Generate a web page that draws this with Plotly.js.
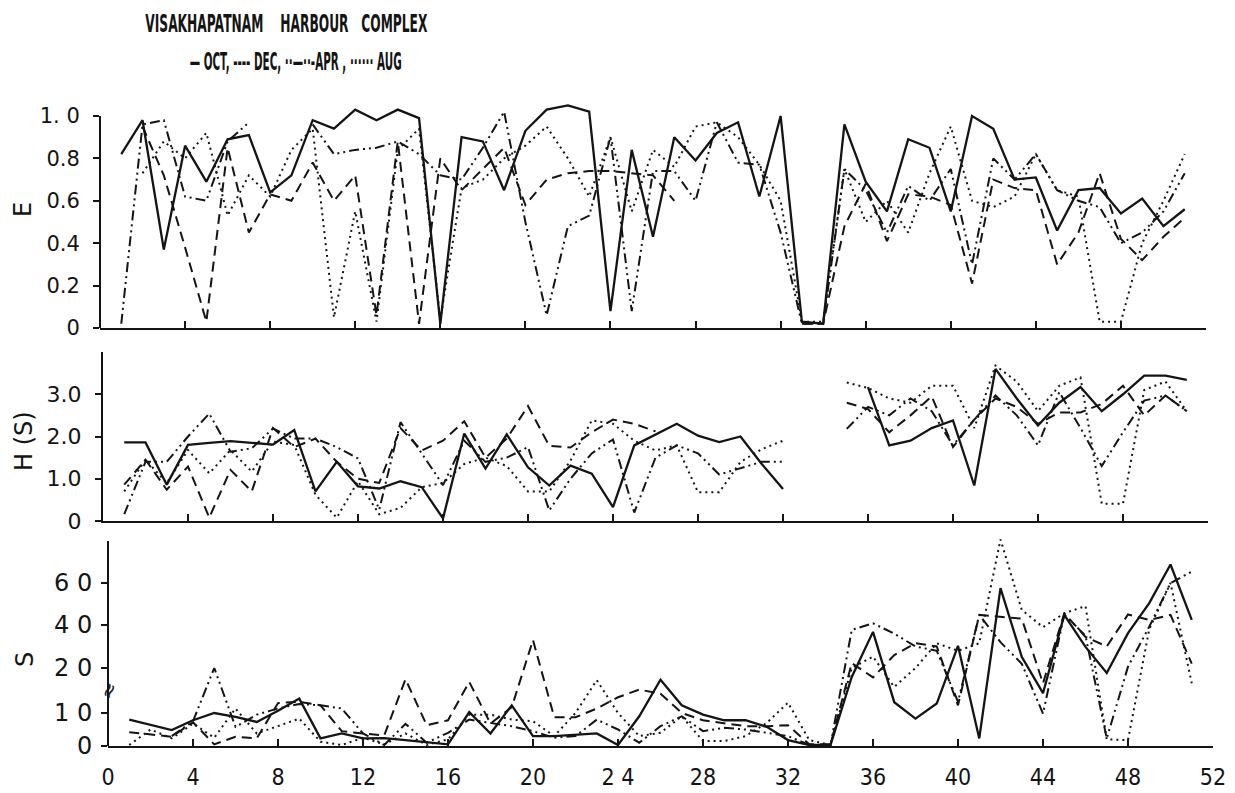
<!DOCTYPE html>
<html><head><meta charset="utf-8">
<script src="https://cdn.plot.ly/plotly-3.0.1.min.js"></script>
<style>html,body{margin:0;padding:0;background:#fff}#chart{width:1235px;height:793px}</style>
</head><body><div id="chart"></div>
<script>
// ---- categories ----
const weeks = [1,2,3,4,5,6,7,8,9,10,11,12,13,14,15,16,17,18,19,20,21,22,23,24,25,26,27,28,29,30,31,32,33,34,35,36,37,38,39,40,41,42,43,44,45,46,47,48,49,50,51];
const seriesNames = ['OCT','DEC','APR','AUG'];

// ---- E (evenness) ----
const E_OCT = [0.82,0.98,0.37,0.86,0.69,0.89,0.91,0.64,0.72,0.98,0.94,1.03,0.98,1.03,0.99,0.02,0.90,0.88,0.65,0.93,1.03,1.05,1.02,0.08,0.84,0.43,0.90,0.79,0.92,0.97,0.62,1.00,0.03,0.02,0.96,0.69,0.55,0.89,0.85,0.55,1.00,0.94,0.70,0.71,0.46,0.65,0.66,0.54,0.61,0.48,0.56];
const E_DEC = [null,0.95,0.72,0.38,0.03,0.85,0.45,0.63,0.60,0.78,0.60,0.72,0.06,0.88,0.02,0.80,0.65,0.75,0.85,0.58,0.70,0.73,0.74,0.74,0.73,0.72,0.60,null,null,null,null,null,0.02,0.02,0.48,0.68,0.41,0.63,0.62,0.58,0.21,0.70,0.66,0.65,0.30,0.45,0.73,0.42,0.32,0.43,0.52];
const E_APR = [0.02,0.96,0.98,0.62,0.60,0.88,0.97,null,null,0.96,0.82,0.84,0.85,0.88,0.82,0.72,0.70,0.85,1.02,0.50,0.06,0.48,0.53,0.90,0.08,0.74,0.74,0.60,0.97,0.78,0.77,0.45,0.02,0.02,0.75,0.65,0.45,0.67,0.60,0.75,0.30,0.80,0.70,0.82,0.65,0.60,0.57,0.40,0.45,0.55,0.73];
const E_AUG = [null,0.73,0.88,0.80,0.92,0.53,0.72,0.62,0.84,0.94,0.05,0.55,0.03,0.84,0.94,0.04,0.66,0.70,0.80,0.86,0.95,0.80,0.62,0.90,0.55,0.84,0.76,0.95,0.97,0.90,0.77,0.60,0.03,0.03,0.75,0.50,0.60,0.45,0.73,0.95,0.60,0.57,0.62,0.82,0.65,0.62,0.03,0.03,0.40,0.60,0.82];

// ---- H(S) (diversity) ----
const H_OCT = [1.86,1.86,0.86,1.80,1.85,1.89,1.85,1.81,2.15,0.70,1.40,0.82,0.77,0.94,0.80,0.06,2.07,1.24,2.05,1.27,0.84,1.31,1.12,0.33,1.79,2.05,2.30,2.02,1.87,2.00,1.35,0.76,null,null,null,3.17,1.79,1.90,2.20,2.38,0.84,3.60,2.90,2.26,2.80,3.17,2.60,3.00,3.44,3.44,3.34];
const H_DEC = [0.86,1.45,0.74,1.29,0.08,1.21,0.70,2.20,1.75,1.95,1.40,1.00,0.90,2.20,1.67,1.90,2.36,1.50,1.95,2.72,1.78,1.74,2.10,2.40,2.30,2.12,null,null,null,null,null,null,null,null,2.80,2.65,2.10,2.50,2.95,1.75,2.40,2.90,2.70,2.30,2.57,2.57,2.77,3.20,2.50,2.97,2.60];
const H_APR = [0.16,1.40,1.40,2.00,2.54,1.64,1.72,2.19,1.95,1.95,1.75,1.48,0.27,2.34,1.60,0.85,1.90,1.40,1.50,1.75,0.25,1.00,1.60,1.93,0.20,1.50,1.79,1.60,1.10,1.25,1.40,1.40,null,null,2.18,2.70,2.50,2.90,2.60,1.79,2.40,2.97,2.50,1.79,3.05,2.20,1.30,2.10,2.85,2.97,2.60];
const H_AUG = [0.70,1.45,0.90,1.68,1.13,1.68,1.17,1.88,1.80,0.62,0.08,0.94,0.16,0.31,0.80,0.90,1.35,1.50,1.30,0.70,0.70,1.43,2.38,2.30,1.90,1.67,1.79,0.68,0.68,1.40,1.70,1.90,null,null,3.28,3.15,2.90,2.80,3.20,3.20,2.20,3.68,3.30,2.60,3.20,3.40,0.41,0.41,3.10,3.30,2.60];

// ---- S (number of species) ----
const S_OCT = [8.0,6.5,4.8,7.8,10.0,8.8,7.3,10.5,13.2,2.3,3.8,2.3,2.4,1.8,1.2,0.5,10.2,3.8,11.7,3.0,3.0,3.4,3.8,0.3,9.0,17.4,11.7,9.5,7.8,7.8,5.8,1.8,0.3,0.3,18.0,36.8,12.4,8.3,12.1,30.3,2.3,57.6,25.2,14.4,44.8,29.8,18.9,36.2,50.4,68.8,42.4];
const S_DEC = [4.2,3.5,2.8,7.2,0.5,2.8,2.3,12.2,12.5,11.7,4.5,3.8,3.2,17.5,6.3,7.8,16.9,6.8,11.3,33.0,8.7,8.7,11.0,13.5,15.2,14.3,10.0,7.8,7.0,6.0,6.0,6.3,0.5,0.5,22.3,17.9,26.0,31.5,30.0,11.7,44.8,43.8,43.0,16.6,45.6,34.5,30.0,45.0,42.4,44.8,22.0];
const S_APR = [null,null,3.0,7.5,20.0,5.8,9.5,11.0,12.0,11.7,11.0,3.8,0.3,6.7,1.0,4.0,8.0,7.0,6.0,4.5,2.5,3.0,8.0,5.0,1.0,6.0,9.0,4.5,5.5,5.0,4.0,3.0,0.3,0.3,37.7,40.8,36.0,30.0,28.0,12.5,44.8,32.0,22.0,9.8,45.0,35.0,2.3,20.6,39.2,60.0,65.4];
const S_AUG = [0.3,5.0,2.3,6.8,2.5,11.0,3.8,6.0,8.3,1.3,0.3,2.5,0.5,3.8,0.3,2.0,9.5,9.5,8.0,7.5,3.0,10.0,17.3,10.0,3.0,4.0,9.0,1.5,1.5,3.0,7.0,12.3,1.8,0.3,20.0,25.3,15.8,20.0,31.5,28.0,31.5,80.7,47.2,39.0,45.6,49.0,2.0,1.8,38.0,60.0,16.6];

// ---- tick labels ----
const xTickVals = [0,4,8,12,16,20,24,28,32,36,40,44,48,52];
const xTickText = ['0','4','8','12','16','20','2 4','28','32','36','40','44','48','52'];
const eTickVals = [0,0.2,0.4,0.6,0.8,1.0];
const eTickText = ['0','0.2','0.4','0.6','0.8','1. 0'];
const hTickVals = [0,1,2,3];
const hTickText = ['0','1.0','2.0','3.0'];
const sTickVals = [0,10,20,40,60];
const sTickText = ['0','1 0','2 0','4 0','6 0'];

// broken S axis: piecewise scale (label value -> axis position)
const sTickPos = [0,33,78,121,163];
function sPos(v){
  if(v===null||v===undefined) return null;
  for(let i=1;i<sTickVals.length;i++){
    if(v<=sTickVals[i]){
      const t=(v-sTickVals[i-1])/(sTickVals[i]-sTickVals[i-1]);
      return sTickPos[i-1]+t*(sTickPos[i]-sTickPos[i-1]);
    }
  }
  const n=sTickVals.length;
  const slope=(sTickPos[n-1]-sTickPos[n-2])/(sTickVals[n-1]-sTickVals[n-2]);
  return sTickPos[n-1]+(v-sTickVals[n-1])*slope;
}

const INK = '#141414';
const lineStyle = {
  OCT:{color:INK,width:2.3,dash:'solid'},
  DEC:{color:INK,width:2,dash:'10px,6px'},
  APR:{color:INK,width:2,dash:'10px,4px,2px,4px,2px,4px'},
  AUG:{color:INK,width:2,dash:'2px,4px'}
};

const panels = [
  {xa:'x',ya:'y',data:{OCT:E_OCT,DEC:E_DEC,APR:E_APR,AUG:E_AUG},f:v=>v},
  {xa:'x2',ya:'y2',data:{OCT:H_OCT,DEC:H_DEC,APR:H_APR,AUG:H_AUG},f:v=>v},
  {xa:'x3',ya:'y3',data:{OCT:S_OCT,DEC:S_DEC,APR:S_APR,AUG:S_AUG},f:sPos}
];
const traces = [];
panels.forEach(p=>{
  seriesNames.forEach(n=>{
    traces.push({type:'scatter',mode:'lines',x:weeks,y:p.data[n].map(p.f),
      xaxis:p.xa,yaxis:p.ya,name:n,line:lineStyle[n],connectgaps:false,
      hoverinfo:'skip'});
  });
});

const W=1235,Hh=793;
const fx=px=>px/W, fy=py=>1-py/Hh;
const baseX = {range:[0,52],showline:true,linewidth:2,linecolor:INK,ticks:'inside',ticklen:7,tickwidth:2,tickcolor:INK,
  tickmode:'array',tickvals:xTickVals.slice(1),showticklabels:false,showgrid:false,zeroline:false,fixedrange:true};
const baseY = {ticks:'outside',ticklen:6,tickwidth:2,tickcolor:INK,tickmode:'array',showgrid:false,zeroline:false,fixedrange:true,
  tickfont:{family:'DejaVu Sans',size:21,color:INK}};

const layout = {
  width:W,height:Hh,margin:{l:0,r:0,t:0,b:0},paper_bgcolor:'#ffffff',plot_bgcolor:'rgba(0,0,0,0)',showlegend:false,
  font:{family:'DejaVu Sans',color:INK},
  xaxis:Object.assign({},baseX,{domain:[fx(100),fx(1206)],anchor:'y'}),
  yaxis:Object.assign({},baseY,{domain:[fy(328),fy(99)],range:[0,1.08],anchor:'x',showline:false,tickvals:eTickVals,ticktext:eTickText,ticklabelstandoff:9}),
  xaxis2:Object.assign({},baseX,{domain:[fx(103),fx(1208)],anchor:'y2'}),
  yaxis2:Object.assign({},baseY,{domain:[fy(521),fy(352)],range:[0,4],anchor:'x2',showline:true,linewidth:2,linecolor:INK,tickvals:hTickVals,ticktext:hTickText,ticklabelstandoff:9,tickfont:{family:'DejaVu Sans',size:22,color:INK}}),
  xaxis3:Object.assign({},baseX,{domain:[fx(108),fx(1213)],anchor:'y3',tickvals:xTickVals,ticktext:xTickText,showticklabels:true,
    tickfont:{family:'DejaVu Sans Condensed, DejaVu Sans',size:23,color:INK},ticklabelstandoff:9}),
  yaxis3:Object.assign({},baseY,{domain:[fy(746),fy(533)],range:[0,213],anchor:'x3',showline:false,tickvals:sTickVals.map(sPos),ticktext:sTickText,ticklabelstandoff:4,tickfont:{family:'DejaVu Sans',size:24,color:INK}}),
  shapes:[
    {type:'line',xref:'x domain',yref:'y',x0:0,x1:0,y0:0,y1:1.0,line:{color:INK,width:2}},
    {type:'line',xref:'x3 domain',yref:'y3',x0:0,x1:0,y0:0,y1:sPos(80),line:{color:INK,width:2}}
  ],
  annotations:[
    {text:'VISAKHAPATNAM\u00a0\u00a0\u00a0 HARBOUR\u00a0\u00a0 COMPLEX',xref:'paper',yref:'paper',x:fx(286),y:fy(23),showarrow:false,xanchor:'center',yanchor:'middle',
     font:{family:'DejaVu Sans',size:25,weight:'bold',color:INK}},
    {text:'— OCT, ---- DEC, ··—··-APR , ······ AUG',xref:'paper',yref:'paper',x:fx(295),y:fy(62),showarrow:false,xanchor:'center',yanchor:'middle',
     font:{family:'DejaVu Sans',size:24,weight:'bold',color:INK}},
    {text:'E',xref:'paper',yref:'paper',x:fx(23),y:fy(210),showarrow:false,textangle:-90,xanchor:'center',yanchor:'middle',font:{family:'DejaVu Sans',size:24,color:INK}},
    {text:'H (S)',xref:'paper',yref:'paper',x:fx(24),y:fy(441),showarrow:false,textangle:-90,xanchor:'center',yanchor:'middle',font:{family:'DejaVu Sans',size:24,color:INK}},
    {text:'S',xref:'paper',yref:'paper',x:fx(25),y:fy(660),showarrow:false,textangle:-90,xanchor:'center',yanchor:'middle',font:{family:'DejaVu Sans',size:24,color:INK}},
    {text:'≈',xref:'x3 domain',yref:'y3',x:0,y:sPos(15),showarrow:false,textangle:-65,xanchor:'center',yanchor:'middle',font:{family:'DejaVu Sans',size:20,color:INK}}
  ]
};
Plotly.newPlot('chart',traces,layout,{staticPlot:true,displayModeBar:false}).then(gd=>{
  // condensed lettering of the title and key line, as in the original figure
  const widths = [282, 212];
  const texts = gd.querySelectorAll('.annotation-text');
  widths.forEach((w,i)=>{
    if(texts[i]){ texts[i].setAttribute('textLength', w); texts[i].setAttribute('lengthAdjust','spacingAndGlyphs'); }
  });
});
</script></body></html>
